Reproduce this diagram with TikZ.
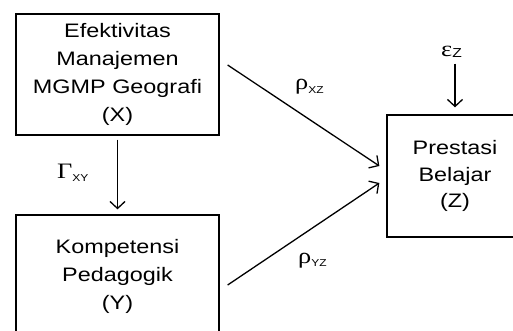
\documentclass[tikz,border=0pt]{standalone}
\usepackage{fontspec}
\setmainfont[FakeStretch=1.2]{Liberation Sans}
\newfontfamily\grk[FakeStretch=1.2]{Liberation Serif}
\usetikzlibrary{arrows.meta}
\newcommand{\subs}[1]{\raisebox{-3.5pt}{\fontsize{10}{12}\rmfamily #1}}
\begin{document}
\begin{tikzpicture}[x=1pt,y=-1pt,
 box/.style={draw,line width=1.3pt,align=center,inner sep=0pt,font=\fontsize{19.5}{28}\selectfont},
 arr/.style={line width=1.3pt,-{Straight Barb[length=7pt,width=15pt]}},
 lbl/.style={anchor=base west,inner sep=0pt,font=\fontsize{22}{24}\grk}]
\useasboundingbox (0,0) rectangle (513,331);
\clip (0,0) rectangle (513,331);
\node[box,minimum width=203pt,minimum height=121pt] (X) at (117.5,74.5) {Efektivitas\\Manajemen\\MGMP Geografi\\(X)};
\node[box,minimum width=203pt,minimum height=123pt] (Y) at (117.5,276.5) {Kompetensi\\Pedagogik\\(Y)};
\node[box,minimum width=136pt,minimum height=122pt,font=\fontsize{19.5}{26.5}\selectfont] (Z) at (455,176) {Prestasi\\Belajar\\(Z)};
\node[lbl] (gxy) at (57,178) {Γ\subs{XY}};
\node[lbl] (rxz) at (295,90) {ρ\subs{XZ}};
\node[lbl] (ryz) at (298,263) {ρ\subs{YZ}};
\node[lbl] (ez) at (441,57) {ε\raisebox{-0.5pt}{\fontsize{13}{14}\rmfamily Z}};
\coordinate (et) at (Z.north |- ez.south);
\draw[arr] ([yshift=-4pt]X.south) -- ([yshift=5pt]Y.north);
\draw[arr] ([shift={(8pt,9.5pt)}]X.east) -- ([shift={(-7pt,10pt)}]Z.west);
\draw[arr] ([shift={(8pt,-8.5pt)}]Y.east) -- ([shift={(-7pt,-7pt)}]Z.west);
\draw[arr] ([yshift=-6pt]et) -- ([yshift=7pt]Z.north);
\end{tikzpicture}
\end{document}
